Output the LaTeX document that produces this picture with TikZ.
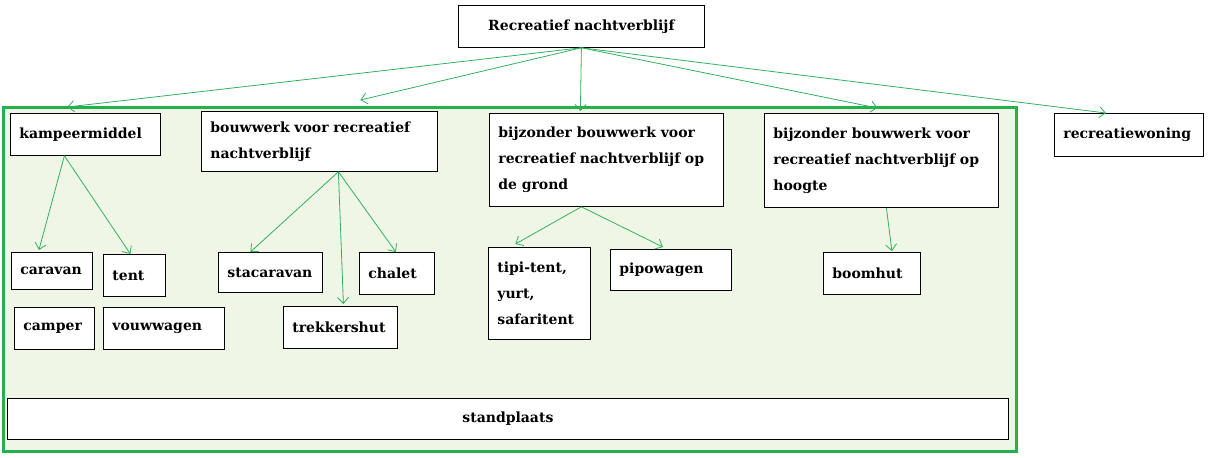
\documentclass[tikz,border=0pt]{standalone}
\usepackage{fontspec}
\setmainfont{DejaVu Serif}
\usetikzlibrary{arrows.meta}
\definecolor{gline}{HTML}{22B14C}
\definecolor{garea}{HTML}{EFF6E6}
\definecolor{arr}{HTML}{33B060}
\begin{document}
\begin{tikzpicture}[x=1pt,y=-1pt,
  box/.style={draw=black,fill=white,line width=0.8pt,anchor=north west,inner xsep=9pt,inner ysep=3pt,
    font=\fontsize{14}{26}\selectfont\bfseries,align=left},
  ar/.style={draw=arr,line width=0.8pt,-{Straight Barb[length=6pt,width=11pt]}}]
\fill[white] (0,0) rectangle (1211,458);
\useasboundingbox (0,0) rectangle (1211,458);
\draw[gline,fill=garea,line width=3pt] (3,107) rectangle (1016,451);
\node[box,minimum width=246pt,minimum height=42pt,align=center] (top) at (458,5) {Recreatief nachtverblijf};
\node[box,minimum width=150pt,minimum height=42pt,text width=132pt] (kamp) at (10,113) {kampeermiddel};
\node[box,minimum width=236pt,minimum height=60pt,text width=218pt] (bouw) at (201,111) {bouwwerk voor recreatief\\nachtverblijf};
\node[box,minimum width=234pt,minimum height=93pt,text width=216pt] (grond) at (489,113) {bijzonder bouwwerk voor\\recreatief nachtverblijf op\\de grond};
\node[box,minimum width=234pt,minimum height=94pt,text width=216pt] (hoogte) at (764,113) {bijzonder bouwwerk voor\\recreatief nachtverblijf op\\hoogte};
\node[box,minimum width=149pt,minimum height=43pt,text width=131pt] (woning) at (1054,113) {recreatiewoning};
\node[box,minimum width=81pt,minimum height=37pt,text width=63pt] (caravan) at (11,252) {caravan};
\node[box,minimum width=62pt,minimum height=42pt,text width=44pt] (tent) at (103,254) {tent};
\node[box,minimum width=80pt,minimum height=42pt,text width=62pt] (camper) at (14,307) {camper};
\node[box,minimum width=121pt,minimum height=42pt,text width=103pt] (vouw) at (103,307) {vouwwagen};
\node[box,minimum width=104pt,minimum height=40pt,text width=86pt] (stac) at (218,252) {stacaravan};
\node[box,minimum width=75pt,minimum height=42pt,text width=57pt] (chalet) at (359,252) {chalet};
\node[box,minimum width=114pt,minimum height=42pt,text width=96pt] (trek) at (283,306) {trekkershut};
\node[box,minimum width=102pt,minimum height=92pt,text width=84pt] (tipi) at (488,247) {tipi-tent,\\yurt,\\safaritent};
\node[box,minimum width=121pt,minimum height=41pt,text width=103pt] (pipo) at (610,249) {pipowagen};
\node[box,minimum width=97pt,minimum height=42pt,text width=79pt] (boom) at (823,252) {boomhut};
\node[box,minimum width=1001pt,minimum height=41pt,align=center] (stand) at (7,398) {standplaats};
\draw[ar] (top.south) -- ([shift={(-18,-6)}]kamp.north);
\draw[ar] (top.south) -- ([shift={(41,-11)}]bouw.north);
\draw[ar] (top.south) -- ([shift={(-26,-2)}]grond.north);
\draw[ar] (top.south) -- ([shift={(-4,-5)}]hoogte.north);
\draw[ar] (top.south) -- ([shift={(-23,0)}]woning.north);
\draw[ar] ([xshift=-21]kamp.south) -- ([shift={(-13,-2)}]caravan.north);
\draw[ar] ([xshift=-21]kamp.south) -- ([shift={(-4,0)}]tent.north);
\draw[ar] ([xshift=19]bouw.south) -- ([shift={(-20,0)}]stac.north);
\draw[ar] ([xshift=19]bouw.south) -- ([shift={(3,-2)}]trek.north);
\draw[ar] ([xshift=19]bouw.south) -- ([shift={(-1,0)}]chalet.north);
\draw[ar] ([xshift=-25]grond.south) -- ([shift={(-24,-3)}]tipi.north);
\draw[ar] ([xshift=-25]grond.south) -- ([shift={(-8,-2)}]pipo.north);
\draw[ar] ([xshift=5]hoogte.south) -- ([shift={(20,-1)}]boom.north);
\end{tikzpicture}
\end{document}
